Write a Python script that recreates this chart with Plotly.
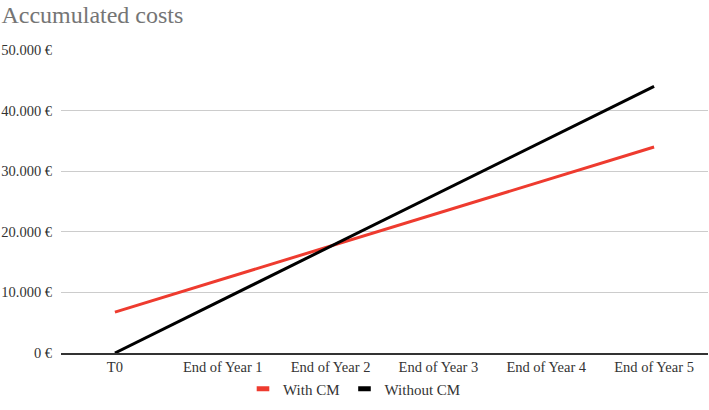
import plotly.graph_objects as go

categories = ["T0", "End of Year 1", "End of Year 2", "End of Year 3", "End of Year 4", "End of Year 5"]
with_cm = [6750, 12200, 17650, 23100, 28550, 34000]
without_cm = [0, 8800, 17600, 26400, 35200, 44000]
y_ticks = [0, 10000, 20000, 30000, 40000, 50000]
y_labels = [f"{v:,}".replace(",", ".") + " €" for v in y_ticks]

serif = "Liberation Serif, Times New Roman, serif"
red = "#ee3b2f"
black = "#000000"

fig = go.Figure()

# actual lines (legend drawn with dummy traces below so the swatch is short)
fig.add_trace(go.Scatter(x=categories, y=with_cm, mode="lines", name="With CM",
                         line=dict(color=red, width=3), showlegend=False))
fig.add_trace(go.Scatter(x=categories, y=without_cm, mode="lines", name="Without CM",
                         line=dict(color=black, width=3), showlegend=False))

for nm, col in [("With CM", red), ("Without CM", black)]:
    fig.add_trace(go.Scatter(x=[None], y=[None], mode="markers", name=nm,
                             marker=dict(symbol="line-ew", size=9,
                                         line=dict(color=col, width=5))))

fig.update_layout(
    width=709, height=410,
    margin=dict(l=61, r=1, t=50, b=57, autoexpand=False),
    paper_bgcolor="white", plot_bgcolor="white",
    font=dict(family=serif, size=14.5, color="#333333"),
    title=dict(text="Accumulated costs", x=0.002, xanchor="left", y=0.965, yanchor="middle",
               font=dict(family=serif, size=24, color="#757575")),
    legend=dict(orientation="h", xref="container", x=0.5, xanchor="center",
                yref="container", y=0.051, yanchor="middle",
                font=dict(size=15, color="#333333"), itemwidth=30),
    xaxis=dict(type="category", range=[-0.5, 5.5], showgrid=False, automargin=False,
               showline=True, linecolor="#333333", linewidth=1.5, ticks=""),
    yaxis=dict(range=[0, 50000], tickvals=y_ticks, ticktext=y_labels, automargin=False,
               showgrid=True, gridcolor="#cccccc", gridwidth=1, zeroline=False,
               ticks="", ticklabelstandoff=8),
)

# drop the default page margin so the figure sits at the window's corner
fig.write_html("out.html", config={"displayModeBar": False},
               post_script="document.body.style.margin='0';")
